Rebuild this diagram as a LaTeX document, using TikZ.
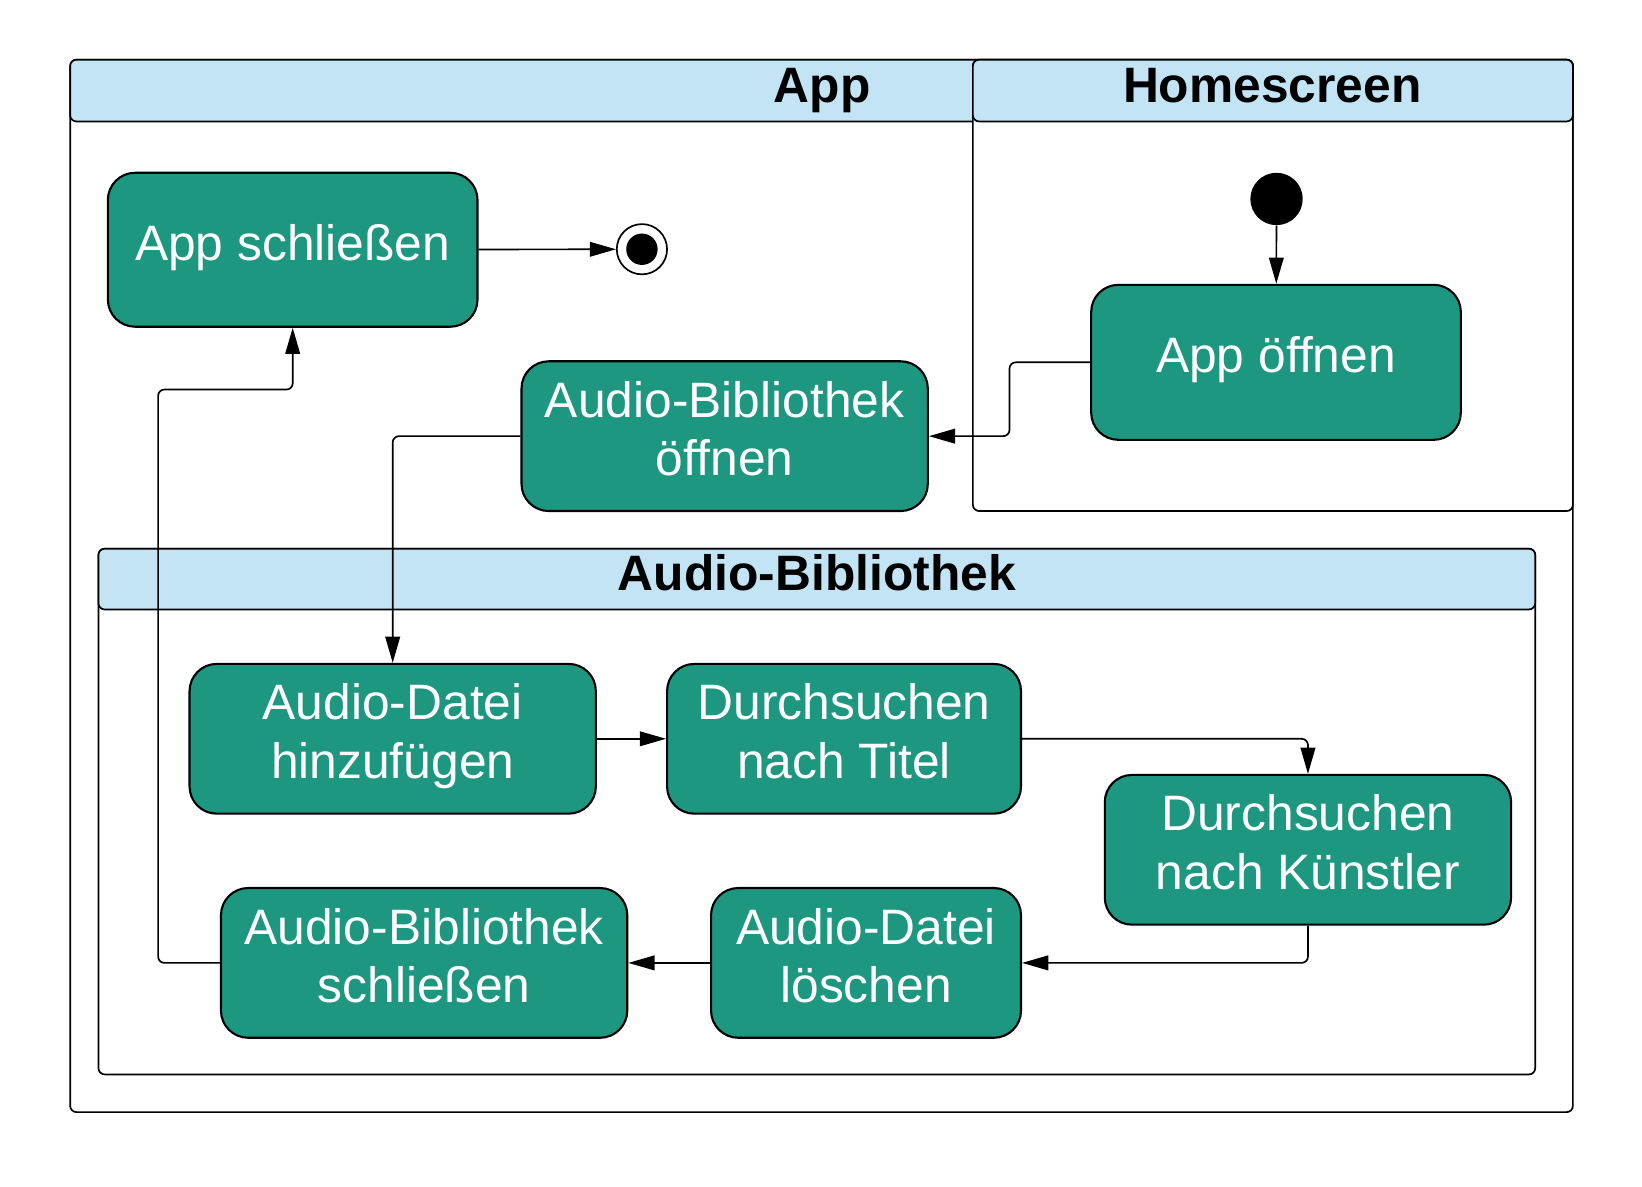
\documentclass[tikz,border=0pt]{standalone}
\usepackage{fontspec}
\setmainfont{Liberation Sans}
\usetikzlibrary{arrows.meta}

\definecolor{aktiongruen}{RGB}{29,151,128}
\definecolor{kopfblau}{RGB}{194,228,245}

\tikzset{
  aktion/.style={draw=black, line width=1pt, fill=aktiongruen, rounded corners=13pt, text=white, align=center, inner sep=0pt, text height=17.5pt, text depth=7.6pt, font=\fontsize{23.75}{27.9}\selectfont},
  zweizeilig/.style={text height=45.4pt},
  rahmen/.style={draw=black, line width=0.8pt, rounded corners=3pt},
  kopfzeile/.style={draw=black, line width=0.8pt, fill=kopfblau, rounded corners=3pt},
  titel/.style={inner sep=0pt, anchor=base, font=\bfseries\fontsize{23.75}{28.5}\selectfont},
  pfeil/.style={draw, line width=0.8pt, rounded corners=3pt, -{Triangle[length=12.5pt,width=7pt]}},
}

\begin{document}
\begin{tikzpicture}[x=0.5pt,y=0.5pt,yscale=-1,xscale=1]
\useasboundingbox (0,0) rectangle (1568,1132.6);

%Frame: App
\draw[rahmen] (67,57) rectangle (1502,1062);
\draw[kopfzeile] (67,57) rectangle (1502,116);
%Frame: Homescreen
\draw[rahmen, fill=white] (929,57) rectangle (1502,488);
\draw[kopfzeile] (929,57) rectangle (1502,116);
%Frame: Audio-Bibliothek
\draw[rahmen] (94,524) rectangle (1466,1026);
\draw[kopfzeile] (94,524) rectangle (1466,582);

% Titles
\node[titel] (tapp) at (785,98) {App};
\node[titel] (thome) at (1215,98) {Homescreen};
\node[titel] (tbib) at (780,563.5) {Audio-Bibliothek};

% Start and end
\node[circle, fill=black, inner sep=0pt, minimum size=25pt] (start) at (1219,190) {};
\node[circle, draw=black, fill=white, line width=0.8pt, inner sep=0pt, minimum size=24pt] (ende) at (613,238) {};
\node[circle, fill=black, inner sep=0pt, minimum size=15pt] (endepunkt) at (ende) {};

% Action nodes
\node[aktion, minimum width=176.5pt, minimum height=73.5pt] (schliessen) at (279.5,238.5) {App schließen};
\node[aktion, minimum width=176.5pt, minimum height=74pt] (oeffnen) at (1218.5,346) {App öffnen};
\node[aktion, zweizeilig, minimum width=194pt, minimum height=71.5pt] (bibauf) at (692,416.5) {Audio-Bibliothek\\öffnen};
\node[aktion, zweizeilig, minimum width=194pt, minimum height=71.5pt] (hinzu) at (375,705.5) {Audio-Datei\\hinzufügen};
\node[aktion, zweizeilig, minimum width=169pt, minimum height=71.5pt] (titelsuche) at (806,705.5) {Durchsuchen\\nach Titel};
\node[aktion, zweizeilig, minimum width=194pt, minimum height=71.5pt] (kuenstler) at (1249,811.5) {Durchsuchen\\nach Künstler};
\node[aktion, zweizeilig, minimum width=194pt, minimum height=71.5pt] (bibzu) at (405,919.5) {Audio-Bibliothek\\schließen};
\node[aktion, zweizeilig, minimum width=148pt, minimum height=71.5pt] (loeschen) at (827,919.5) {Audio-Datei\\löschen};

% Connectors
\draw[pfeil] (schliessen) -- (ende);
\draw[pfeil] (start) -- (oeffnen);
\draw[pfeil] (oeffnen.west) -- ++(-77,0) |- (bibauf.east);
\draw[pfeil] (bibauf.west) -| (hinzu.north);
\draw[pfeil] (hinzu) -- (titelsuche);
\draw[pfeil] (titelsuche.east) -| (kuenstler.north);
\draw[pfeil] (kuenstler.south) |- (loeschen.east);
\draw[pfeil] (loeschen) -- (bibzu);
\draw[pfeil] (bibzu.west) -| (151,372) -| (schliessen.south);

\end{tikzpicture}
\end{document}
